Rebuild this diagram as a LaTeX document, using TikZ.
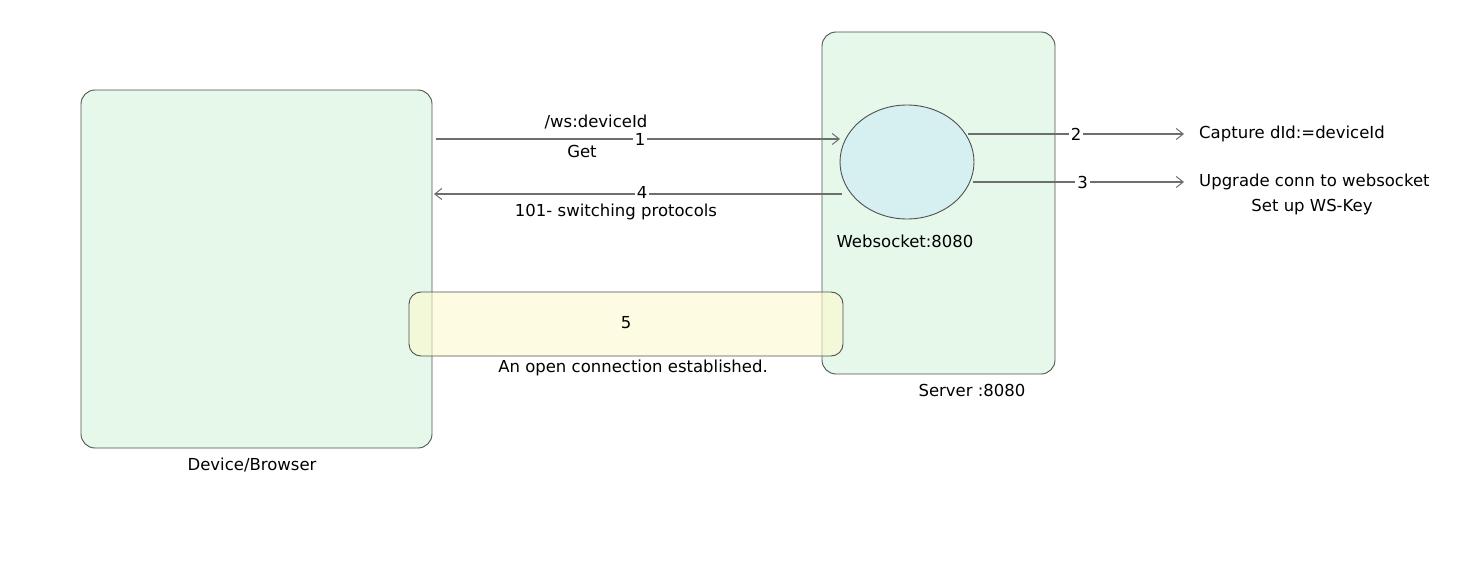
\documentclass[tikz,border=0pt]{standalone}
\usepackage{fontspec}
\setmainfont{DejaVu Sans}
\usetikzlibrary{arrows.meta,shapes.geometric}
\definecolor{boxgreen}{RGB}{230,248,234}
\definecolor{ellblue}{RGB}{214,240,242}
\definecolor{connyellow}{RGB}{252,248,205}
\definecolor{edge}{RGB}{80,80,80}
\definecolor{arrowgray}{RGB}{110,110,110}
\tikzset{
  lbl/.style={font=\fontsize{16.5}{19}\selectfont, text=black, inner sep=1pt},
  bigbox/.style={draw=edge, line width=0.9pt, fill=boxgreen, rounded corners=14pt, inner sep=0pt},
  conn/.style={draw=arrowgray, line width=1.1pt, -{Straight Barb[length=7pt,width=11pt,line width=1pt]}},
  numlbl/.style={lbl, fill=white, inner sep=2pt},
}
\begin{document}
\begin{tikzpicture}[x=1pt,y=-1pt]
\useasboundingbox (0,0) rectangle (1483,580);
% boxes
\node[bigbox, minimum width=351pt, minimum height=358pt] (dev) at (256.5,269) {};
\node[lbl] (devl) at (252,465) {Device/Browser};
\node[bigbox, minimum width=233pt, minimum height=342pt] (srv) at (938.5,203) {};
\node[lbl] (srvl) at (972,390) {Server :8080};
\node[draw=edge, line width=0.9pt, fill=ellblue, ellipse, minimum width=134pt, minimum height=114pt, inner sep=0pt] (ws) at (907,162) {};
\node[lbl] (wsl) at (905,241) {Websocket:8080};
% open connection
\node[draw=edge, line width=0.9pt, fill=connyellow, fill opacity=0.6, rounded corners=12pt, minimum width=434pt, minimum height=64pt, inner sep=0pt] (open) at (626,324) {};
\node[lbl] (five) at (626,323) {5};
\node[lbl] (openl) at (633,368) {An open connection established.};
% targets
\node[lbl, anchor=west] (cap) at (1198,134) {Capture dId:=deviceId};
\node[lbl, anchor=west] (upg) at (1198,182) {Upgrade conn to websocket};
\node[lbl] (key) at (1312,207) {Set up WS-Key};
\coordinate (a1s) at (436,139);
\coordinate (a1e) at (840,139);
\coordinate (a4s) at (842,194);
\coordinate (a4e) at (434,194);
\coordinate (a2s) at (968,134);
\coordinate (a2e) at (1184,134);
\coordinate (a3s) at (973,182);
\coordinate (a3e) at (1184,182);
% arrows
\draw[conn] (a1s) -- node[numlbl, pos=0.505] (n1) {1} (a1e);
\node[lbl] (get1) at (596,122) {/ws:deviceId};
\node[lbl] (get2) at (582,151) {Get};
\draw[conn] (a4s) -- node[numlbl, pos=0.49, yshift=2pt] (n4) {4} (a4e);
\node[lbl] (sw) at (616,212) {101- switching protocols};
\draw[conn] (a2s) -- node[numlbl, pos=0.5] (n2) {2} (a2e);
\draw[conn] (a3s) -- node[numlbl, pos=0.52] (n3) {3} (a3e);
\end{tikzpicture}
\end{document}
